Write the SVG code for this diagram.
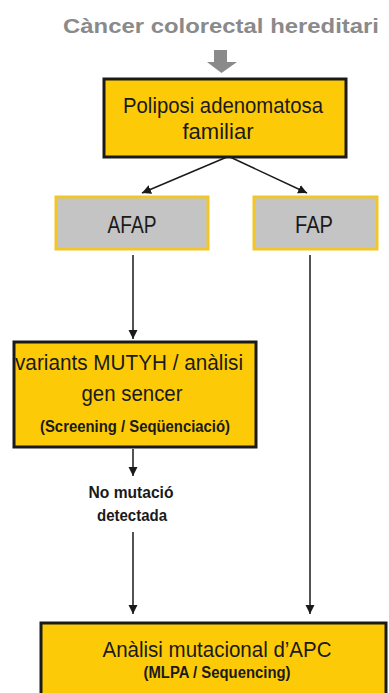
<svg xmlns="http://www.w3.org/2000/svg" width="389" height="693" viewBox="0 0 389 693">
<style>
.t{font-family:"Liberation Sans",Arial,sans-serif;fill:#1a1a1a;text-anchor:middle}
.ybox{fill:#FDCA08;stroke:#1a1a1a;stroke-width:3}
.gbox{fill:#C4C4C4;stroke:#F2C628;stroke-width:3}
.ln{stroke:#1a1a1a;stroke-width:1.5;fill:none}
</style>
<defs>
<marker id="ah" markerWidth="10" markerHeight="10" refX="9" refY="5" orient="auto" markerUnits="userSpaceOnUse">
<path d="M0,0.5 L9,5 L0,9.5 Z" fill="#1a1a1a"/>
</marker>
</defs>
<rect width="389" height="693" fill="#ffffff"/>
<g id="title">
<text class="t" x="221" y="33" font-size="20.5" font-weight="bold" style="fill:#8a8a8a" textLength="316" lengthAdjust="spacingAndGlyphs">Càncer colorectal hereditari</text>
<path d="M214,50 H227 V62 H237 L221.5,73 L207,62 H214 Z" fill="#8a8a8a"/>
</g>
<g id="node-fap-main">
<rect class="ybox" x="104" y="79" width="242" height="78"/>
<text class="t" x="223" y="113" font-size="22" textLength="200" lengthAdjust="spacingAndGlyphs">Poliposi adenomatosa</text>
<text class="t" x="218" y="139" font-size="22" textLength="71" lengthAdjust="spacingAndGlyphs">familiar</text>
</g>
<g id="node-afap">
<rect class="gbox" x="56" y="197" width="152" height="52"/>
<text class="t" x="132" y="233" font-size="23" textLength="49" lengthAdjust="spacingAndGlyphs">AFAP</text>
</g>
<g id="node-fap">
<rect class="gbox" x="254" y="197" width="123" height="52"/>
<text class="t" x="314" y="233" font-size="23" textLength="38" lengthAdjust="spacingAndGlyphs">FAP</text>
</g>
<g id="node-mutyh">
<rect class="ybox" x="14" y="342" width="242" height="105"/>
<text class="t" x="129" y="370" font-size="22" textLength="228" lengthAdjust="spacingAndGlyphs">variants MUTYH / anàlisi</text>
<text class="t" x="132" y="401" font-size="22" textLength="101" lengthAdjust="spacingAndGlyphs">gen sencer</text>
<text class="t" x="135" y="432" font-size="16" font-weight="bold" textLength="190" lengthAdjust="spacingAndGlyphs">(Screening / Seqüenciació)</text>
</g>
<g id="label-no-mutacio">
<text class="t" x="131" y="498" font-size="16" font-weight="bold" textLength="85" lengthAdjust="spacingAndGlyphs">No mutació</text>
<text class="t" x="132" y="521" font-size="16" font-weight="bold" textLength="70" lengthAdjust="spacingAndGlyphs">detectada</text>
</g>
<g id="node-apc">
<rect class="ybox" x="41" y="623" width="345" height="72"/>
<text class="t" x="217" y="657" font-size="22" textLength="229" lengthAdjust="spacingAndGlyphs">Anàlisi mutacional d’APC</text>
<text class="t" x="217" y="678" font-size="16" font-weight="bold" textLength="147" lengthAdjust="spacingAndGlyphs">(MLPA / Sequencing)</text>
</g>
<g id="connectors">
<line class="ln" x1="227" y1="157" x2="142" y2="193" marker-end="url(#ah)"/>
<line class="ln" x1="230" y1="157" x2="307" y2="193" marker-end="url(#ah)"/>
<line class="ln" x1="133" y1="255" x2="133" y2="339" marker-end="url(#ah)"/>
<line class="ln" x1="310" y1="255" x2="310" y2="614" marker-end="url(#ah)"/>
<line class="ln" x1="133" y1="449" x2="133" y2="476" marker-end="url(#ah)"/>
<line class="ln" x1="133" y1="532" x2="133" y2="614" marker-end="url(#ah)"/>
</g>
</svg>
